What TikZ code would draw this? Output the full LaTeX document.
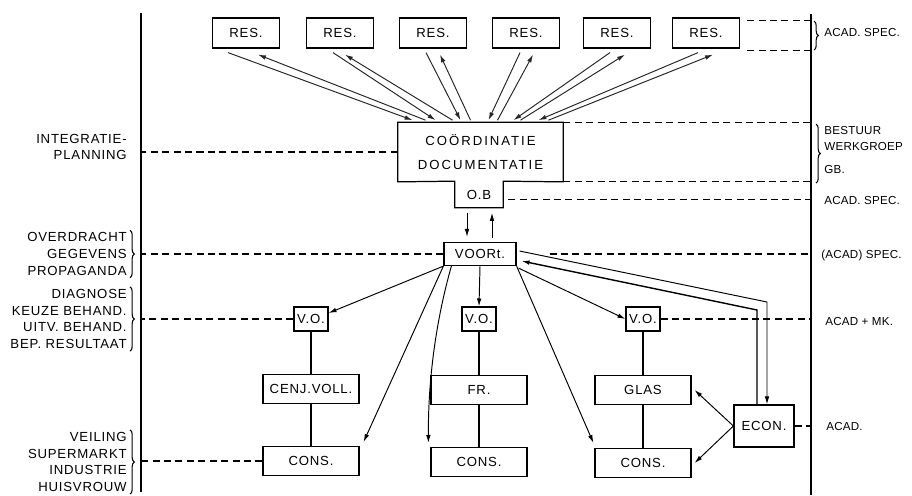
\documentclass[tikz,border=0pt]{standalone}
\usepackage{fontspec}
\setmainfont{Liberation Sans}[LetterSpace=6]
\usetikzlibrary{arrows.meta,positioning,calc,decorations.pathreplacing}

\newcommand{\lblfont}{\fontsize{7.5}{9.5}\selectfont}
\newcommand{\rlblfont}{\fontsize{6.6}{9}\selectfont\addfontfeature{LetterSpace=2}}
\tikzset{
    box/.style={draw, line width=0.7pt, inner sep=0pt, minimum width=1.92cm, minimum height=0.58cm},
    resbox/.style={box, minimum width=1.34cm, minimum height=0.6cm},
    vobox/.style={box, minimum width=0.68cm, minimum height=0.48cm},
    lvl/.style={dash pattern=on 4pt off 2.5pt, line width=0.6pt},
    arr/.style={-{Latex[length=4.5pt,width=2.6pt]}, line width=0.55pt},
    lbl/.style={inner sep=0pt, align=right, anchor=east},
    rlbl/.style={inner sep=0pt, align=left, anchor=west, font=\rlblfont},
    brc/.style={decorate, decoration={brace, amplitude=2.5pt}, line width=0.6pt}
}

\begin{document}
\begin{tikzpicture}[x=0.02cm, y=-0.02cm, font=\lblfont]
    \useasboundingbox (0,0) rectangle (912,495);

    % Level lines
    \coordinate (ltop) at (141,13);
    \coordinate (lbot) at (141,492);
    \coordinate (rtop) at (811,14);
    \coordinate (rbot) at (811,495);
    \draw [line width=1pt] (ltop) -- (lbot);
    \draw [line width=1pt] (rtop) -- (rbot);

    % Research groups
    \foreach \x [count=\i] in {246,340,433,526,617,706}
        \node [resbox] (res\i) at (\x,33) {RES.};

    \node [minimum width=3.3cm, minimum height=1.18cm, inner sep=0pt, align=center] (coord) at (480.5,152)
        {\addfontfeature{LetterSpace=15}CO\"ORDINATIE\\[4pt]\addfontfeature{LetterSpace=15}DOCUMENTATIE};
    \node [minimum width=0.96cm, minimum height=0.52cm, inner sep=0pt] (ob) at (479,194.5) {O.B};
    \draw [line width=0.7pt] (coord.south west) -- (coord.north west) -- (coord.north east) -- (coord.south east)
        -- (ob.north east) -- (ob.south east) -- (ob.south west) -- (ob.north west) -- cycle;

    % Fan between RES. and coordination
    \foreach \i/\a/\b/\c/\d in {1/-18/-68/-55/12, 2/-7/-45/-28/5, 3/-7/-20/-10/7, 4/-6/8/17/7, 5/-7/33/40/8, 6/-8/58/68/7}
    {
        \draw [arr, black!85] ($(res\i.south)+(\a,4)$) -- ($(coord.north)+(\b,-2)$);
        \draw [arr, black!85] ($(coord.north)+(\c,-2)$) -- ($(res\i.south)+(\d,6)$);
    }

    \node [box, minimum width=1.44cm, minimum height=0.46cm] (voor) at (480,254) {VOORt.};
    \draw [arr] ($(ob.south)+(-12,5)$) -- ($(voor.north)+(-13,-5)$);
    \draw [arr] ($(voor.north)+(12,-4)$) -- ($(ob.south)+(13,5)$);

    % Columns
    \node [vobox] (vo1) at (311,319) {V.O.};
    \node [vobox] (vo2) at (479,319) {V.O.};
    \node [vobox] (vo3) at (643,319) {V.O.};
    \node [box] (cenj) at (311,389) {CENJ.VOLL.};
    \node [box] (fr) at (479,390) {FR.};
    \node [box] (glas) at (643,390) {GLAS};
    \node [box] (cons1) at (311,461) {CONS.};
    \node [box] (cons2) at (479,462) {CONS.};
    \node [box] (cons3) at (643,463) {CONS.};
    \node [box, minimum width=1.2cm, minimum height=0.84cm] (econ) at (764,426) {ECON.};

    \draw [line width=0.6pt] (vo1) -- (cenj) -- (cons1);
    \draw [line width=0.6pt] (vo2) -- (fr) -- (cons2);
    \draw [line width=0.6pt] (vo3) -- (glas) -- (cons3);

    % Arrows out of VOORt.
    \draw [arr] (voor.south west) -- ($(vo1.east)+(0,-6)$);
    \draw [arr] (voor.south west) -- ($(cons1.north east)+(4,-4)$);
    \draw [arr] ($(voor.south west)+(8,0)$) .. controls (436,320) and (428,380) .. ($(cons2.north west)+(-2,-4)$);
    \draw [arr] (voor.south) -- (vo2.north);
    \draw [arr] (voor.south east) -- ($(cons3.north west)+(-1,-5)$);
    \draw [arr] ($(voor.south east)+(2,2)$) -- (vo3.west);

    \coordinate (bendA) at (767,302);
    \coordinate (bendB) at (757,310);
    \draw [arr] ($(voor.east)+(3,-3)$) -- (bendA) -- (bendA |- econ.north);
    \draw [arr, line width=0.8pt] (bendB |- econ.north) -- (bendB) -- ($(voor.east)+(5,7)$);
    \draw [arr] (econ.west) -- ($(glas.east)+(3,0)$);
    \draw [arr] (econ.west) -- ($(cons3.east)+(3,0)$);

    % Dashed levels
    \coordinate (resA) at ($(res6.north east)+(7,3)$);
    \coordinate (resB) at ($(res6.south east)+(7,2)$);
    \coordinate (obR) at ($(ob.east)+(5,5)$);
    \coordinate (voorR) at ($(voor.east)+(33,0)$);
    \draw [lvl] (resA) -- (resA -| rtop);
    \draw [lvl] (resB) -- (resB -| rtop);
    \draw [lvl] (coord.west) -- (coord.west -| ltop);
    \draw [lvl] (coord.north east) -- (coord.north east -| rtop);
    \draw [lvl] (coord.south east) -- (coord.south east -| rtop);
    \draw [lvl] (obR) -- (obR -| rtop);
    \draw [lvl] (voor.west) -- (voor.west -| ltop);
    \draw [lvl] (voorR) -- (voorR -| rtop);
    \draw [lvl] (vo1.west) -- (vo1.west -| ltop);
    \draw [lvl] (vo3.east) -- (vo3.east -| rtop);
    \draw [lvl] (cons1.west) -- (cons1.west -| ltop);
    \draw [lvl] (econ.east) -- (econ.east -| rtop);

    % Left labels
    \node [lbl] (integr) at (127,147) {INTEGRATIE-\\PLANNING};
    \node [lbl] (overdr) at (127,254) {OVERDRACHT\\GEGEVENS\\PROPAGANDA};
    \node [lbl] (diagn) at (127,319) {DIAGNOSE\\KEUZE BEHAND.\\UITV. BEHAND.\\BEP. RESULTAAT};
    \node [lbl] (veil) at (127,462) {VEILING\\SUPERMARKT\\INDUSTRIE\\HUISVROUW};
    \foreach \n in {overdr,diagn,veil}
        \draw [brc] ($(\n.north east)+(3,-2)$) -- ($(\n.south east)+(3,2)$);

    % Right labels
    \node [rlbl] (acad1) at (824,33) {ACAD. SPEC.};
    \node [rlbl] (best) at (824,150) {BESTUUR\\WERKGROEP\\[4pt]GB.};
    \node [rlbl] (acad2) at (824,200) {ACAD. SPEC.};
    \node [rlbl] (acad3) at (821,255) {(ACAD) SPEC.};
    \node [rlbl] (acad4) at (825,321) {ACAD + MK.};
    \node [rlbl] (acad5) at (826,426) {ACAD.};
    \draw [brc] (814,21) -- (814,50);
    \draw [brc] (816,124) -- (816,183);
\end{tikzpicture}
\end{document}
